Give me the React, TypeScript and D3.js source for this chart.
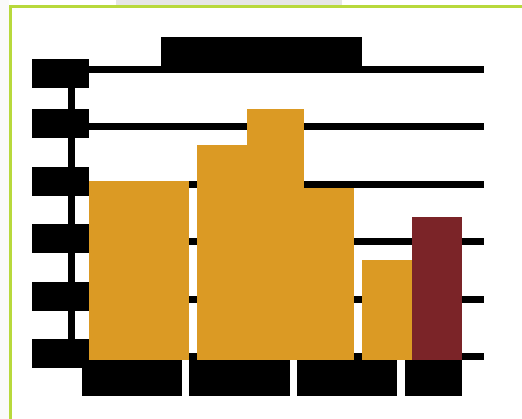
import React from "react";
import * as d3 from "d3";

// Bars of a variable-width bar chart (x extents in layout units, values on a 0–50 axis)
const barStarts = [0, 15, 22, 30, 38, 45];
const barEnds = [14, 22, 30, 37, 45, 52];
const barValues = [31.2, 37.5, 43.7, 30.0, 17.4, 24.9];
const barColors = ["#DB9A24", "#DB9A24", "#DB9A24", "#DB9A24", "#DB9A24", "#7B2428"];

// Y ticks
const yTicks = [0, 10, 20, 30, 40, 50];

// X category label slots (redacted labels, in layout units)
const xLabelStarts = [-1, 14, 29, 44];
const xLabelEnds = [13, 28, 43, 52];

export default function App() {
  const W = 522;
  const H = 419;
  const x = d3.scaleLinear().domain([0, 52]).range([89, 462]);
  const y = d3.scaleLinear().domain([0, 50]).range([360, 73]);
  const rx = (v: number) => Math.round(x(v));
  const ry = (v: number) => Math.round(y(v));
  const gridThick = 7;
  const gridX0 = 89;
  const gridX1 = 484;

  return (
    <div style={{ position: "fixed", left: 0, top: 0 }}>
      <svg width={W} height={H} style={{ display: "block" }} shapeRendering="crispEdges">
        <rect x={0} y={0} width={W} height={H} fill="#ffffff" />
        <rect x={0} y={0} width={9} height={H} fill="#fafafa" />
        <rect x={116} y={0} width={226} height={5} fill="#e6e6e6" />
        {/* green frame */}
        <rect x={10.5} y={6.5} width={W + 20} height={H + 20} fill="none" stroke="#b8d93c" strokeWidth={3} />

        {/* gridlines */}
        {yTicks.map((t) => (
          <rect key={"g" + t} x={gridX0} y={ry(t) - gridThick} width={gridX1 - gridX0} height={gridThick} fill="#000" />
        ))}

        {/* y axis line */}
        <rect x={68} y={ry(50)} width={7} height={ry(0) - ry(50)} fill="#000" />

        {/* bars */}
        {barValues.map((v, i) => (
          <rect
            key={"b" + i}
            x={rx(barStarts[i])}
            y={ry(v)}
            width={rx(barEnds[i]) - rx(barStarts[i])}
            height={ry(0) - ry(v)}
            fill={barColors[i]}
          />
        ))}

        {/* y tick labels (redacted) */}
        {yTicks.map((t) => {
          const c = Math.max(ry(t) - 7, 73);
          return <rect key={"yl" + t} x={32} y={c - 14} width={57} height={29} fill="#000" />;
        })}

        {/* x labels (redacted) */}
        {xLabelStarts.map((s, i) => (
          <rect key={"xl" + i} x={rx(s)} y={360} width={rx(xLabelEnds[i]) - rx(s)} height={36} fill="#000" />
        ))}

        {/* title (redacted) */}
        <rect x={161} y={37} width={201} height={30} fill="#000" />
      </svg>
    </div>
  );
}
